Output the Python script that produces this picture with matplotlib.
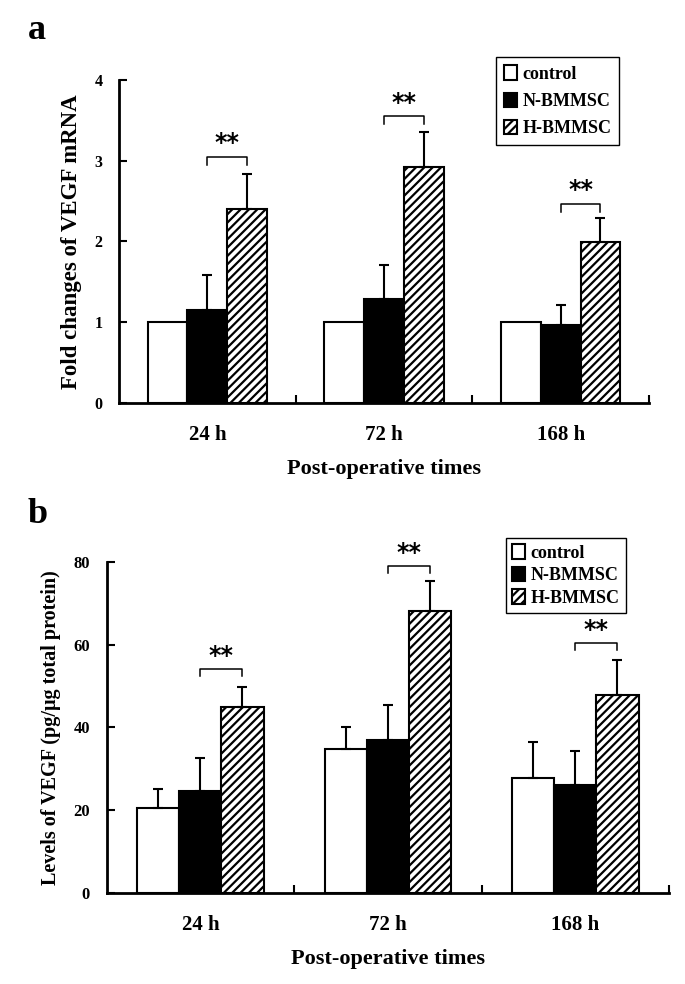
import matplotlib
matplotlib.use("Agg")
import matplotlib.pyplot as plt
from matplotlib.patches import Patch
import numpy as np

plt.rcParams['font.family'] = ['Liberation Serif', 'DejaVu Serif']
plt.rcParams['font.weight'] = 'bold'
plt.rcParams['hatch.linewidth'] = 1.6

categories = ["24 h", "72 h", "168 h"]
series = ["control", "N-BMMSC", "H-BMMSC"]

# Panel a: fold changes of VEGF mRNA
a_control = [1.0, 1.0, 1.0]
a_control_err = [0.0, 0.0, 0.0]
a_n = [1.15, 1.29, 0.96]
a_n_err = [0.44, 0.42, 0.25]
a_h = [2.40, 2.92, 1.99]
a_h_err = [0.43, 0.43, 0.30]
a_bracket = [3.05, 3.55, 2.47]

# Panel b: levels of VEGF (pg/ug total protein)
b_control = [20.5, 34.8, 27.9]
b_control_err = [4.7, 5.4, 8.7]
b_n = [24.7, 37.0, 26.0]
b_n_err = [7.9, 8.4, 8.4]
b_h = [44.9, 68.2, 47.8]
b_h_err = [4.9, 7.2, 8.6]
b_bracket = [54.1, 79.0, 60.3]

W = 0.225
x = np.arange(len(categories))


def draw_panel(ax, ctrl, ctrl_err, nv, nerr, hv, herr, brk, ymax, ystep, leg_h, ylabel,
               ylabel_size, ytick_size, legend_box, labelspacing, borderpad, leg_size,
               letter, letter_y):
    styles = [dict(color='white', edgecolor='black', hatch=None),
              dict(color='black', edgecolor='black', hatch=None),
              dict(color='white', edgecolor='black', hatch='////')]
    vals = [ctrl, nv, hv]
    errs = [ctrl_err, nerr, herr]
    for i, (v, e, st) in enumerate(zip(vals, errs, styles)):
        pos = x + (i - 1) * W
        ax.bar(pos, v, W, color=st['color'], edgecolor=st['edgecolor'], hatch=st['hatch'],
               linewidth=1.5, zorder=2)
        e = np.asarray(e)
        mask = e > 0
        ax.errorbar(pos[mask], np.asarray(v)[mask], yerr=[np.zeros(mask.sum()), e[mask]],
                    fmt='none', ecolor='black', elinewidth=1.5, capsize=3.5, capthick=1.5,
                    zorder=3)
    # significance brackets
    for xi, yb in zip(x, brk):
        x0, x1 = xi, xi + W
        ax.plot([x0, x0, x1, x1], [yb - leg_h, yb, yb, yb - leg_h], color='black',
                lw=1.1, clip_on=False, zorder=4)
        ax.text((x0 + x1) / 2, yb + leg_h * 0.2, "**", ha='center', va='bottom',
                fontsize=17, fontweight='bold', family='DejaVu Sans', zorder=6)
    ax.set_xlim(-0.5, 2.5)
    ax.set_ylim(0, ymax)
    ax.spines['top'].set_visible(False)
    ax.spines['right'].set_visible(False)
    ax.spines['left'].set_linewidth(2)
    ax.spines['bottom'].set_linewidth(2)
    ax.set_xticks([0.5, 1.5, 2.5])
    ax.set_xticklabels([])
    ax.set_xticks(x, minor=True)
    ax.set_xticklabels(categories, minor=True, fontsize=15, fontweight='bold')
    ax.tick_params(axis='x', which='major', direction='in', length=6, width=1.5)
    ax.tick_params(axis='x', which='minor', length=0, pad=16)
    ax.set_yticks(np.arange(0, ymax + ystep / 2, ystep))
    ax.tick_params(axis='y', direction='in', length=6, width=1.5, labelsize=ytick_size,
                   pad=12)
    for lab in ax.get_yticklabels():
        lab.set_fontweight('bold')
    ax.set_ylabel(ylabel, fontsize=ylabel_size, fontweight='bold', labelpad=9)
    ax.set_xlabel("Post-operative times", fontsize=16, fontweight='bold', labelpad=10)
    handles = [Patch(facecolor='white', edgecolor='black', linewidth=1.5),
               Patch(facecolor='black', edgecolor='black', linewidth=1.5),
               Patch(facecolor='white', edgecolor='black', hatch='////', linewidth=1.5)]
    leg = fig.legend(handles, series, loc='upper left', bbox_to_anchor=legend_box,
                     frameon=True, fancybox=False, edgecolor='black', framealpha=1,
                     handlelength=0.7, handleheight=0.85, handletextpad=0.3,
                     borderpad=borderpad, labelspacing=labelspacing, borderaxespad=0,
                     prop={'family': 'Liberation Serif', 'weight': 'bold',
                           'size': leg_size})
    leg.get_frame().set_linewidth(1.0)
    leg.set_zorder(1)
    fig.text(28 / 685, letter_y, letter, fontsize=26, fontweight='bold', va='top')


fig = plt.figure(figsize=(6.85, 9.84), dpi=100)
ax_a = fig.add_axes([0.1737, 0.5905, 0.9474 - 0.1737, 0.9187 - 0.5905])
ax_b = fig.add_axes([0.1556, 0.0925, 0.9766 - 0.1556, 0.4289 - 0.0925])

draw_panel(ax_a, a_control, a_control_err, a_n, a_n_err, a_h, a_h_err, a_bracket,
           4, 1, 0.1, "Fold changes of VEGF mRNA", 16.5, 11.5, (496 / 685, 1 - 57 / 984),
           0.55, 0.45, 13, "a", 1 - 14 / 984)
draw_panel(ax_b, b_control, b_control_err, b_n, b_n_err, b_h, b_h_err, b_bracket,
           80, 20, 1.6, "Levels of VEGF (pg/\u03bcg total protein)", 14.5, 12,
           (506 / 685, 1 - 538 / 984), 0.28, 0.35, 13, "b", 1 - 498 / 984)

fig.savefig("out.png", dpi=100)
